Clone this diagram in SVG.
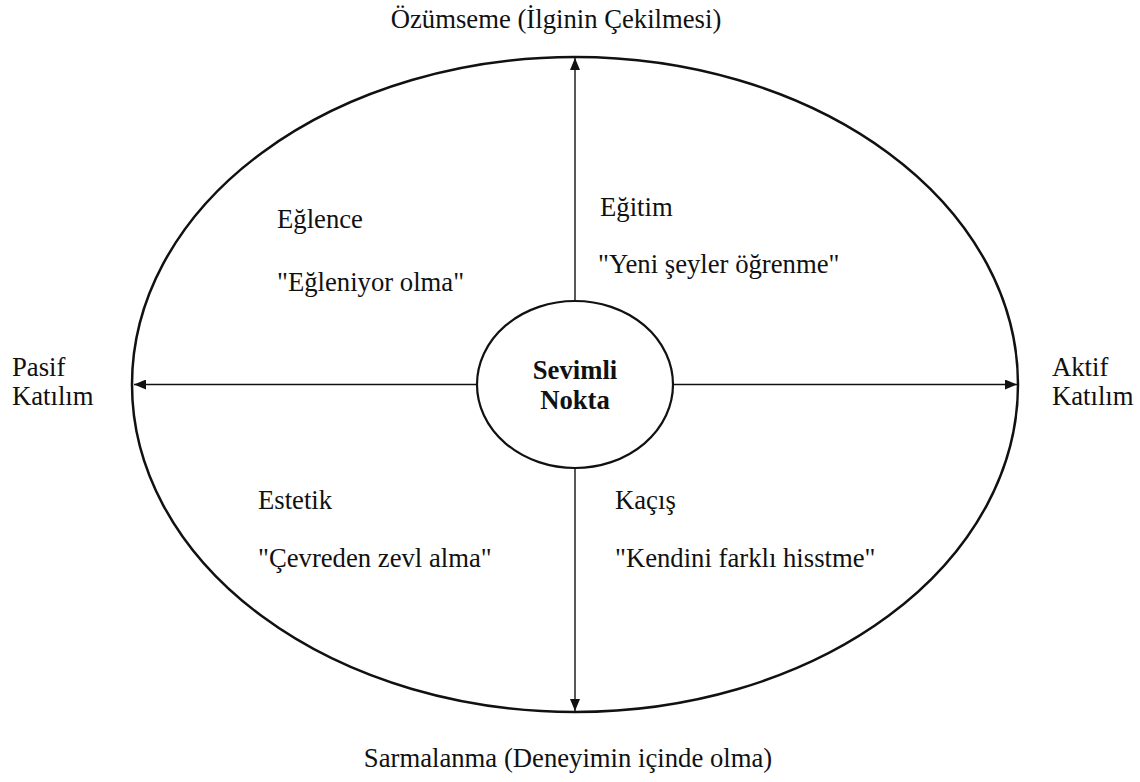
<svg xmlns="http://www.w3.org/2000/svg" width="1140" height="782" viewBox="0 0 1140 782">
  <style>
    text { font-family: "Liberation Serif", "Times New Roman", serif; font-size: 26.7px; fill: #111; }
    .bold { font-weight: bold; }
    .outline { fill: none; stroke: #111; stroke-width: 2.5; }
    .axis { stroke: #111; stroke-width: 1.4; fill: none; }
  </style>
  <defs>
    <marker id="arrow" viewBox="0 0 12 10" refX="12" refY="5" markerWidth="12" markerHeight="10" markerUnits="userSpaceOnUse" orient="auto">
      <path d="M0,0 L12,5 L0,10 Z" fill="#111"/>
    </marker>
  </defs>

  <rect width="1140" height="782" fill="#fff"/>

  <!-- outer experience field -->
  <g id="field">
    <ellipse class="outline" cx="575" cy="384.5" rx="443" ry="327.5"/>
  </g>

  <!-- axes from the centre to the rim -->
  <g id="connectors">
    <line class="axis" x1="575" y1="301" x2="575" y2="58" marker-end="url(#arrow)"/>
    <line class="axis" x1="575" y1="468" x2="575" y2="711" marker-end="url(#arrow)"/>
    <line class="axis" x1="477" y1="384.5" x2="134" y2="384.5" marker-end="url(#arrow)"/>
    <line class="axis" x1="673" y1="384.5" x2="1017" y2="384.5" marker-end="url(#arrow)"/>
  </g>

  <!-- centre: sweet spot -->
  <g id="center">
    <ellipse cx="575" cy="384.5" rx="98" ry="83.5" fill="#fff" stroke="#111" stroke-width="2.2"/>
    <text class="bold" x="575" y="379" text-anchor="middle">Sevimli</text>
    <text class="bold" x="575" y="409" text-anchor="middle">Nokta</text>
  </g>

  <!-- axis labels -->
  <g id="label-top">
    <text x="556" y="28" text-anchor="middle">Özümseme (İlginin Çekilmesi)</text>
  </g>
  <g id="label-bottom">
    <text x="568" y="767" text-anchor="middle">Sarmalanma (Deneyimin içinde olma)</text>
  </g>
  <g id="label-left">
    <text x="12" y="376">Pasif</text>
    <text x="12" y="405">Katılım</text>
  </g>
  <g id="label-right">
    <text x="1052" y="376">Aktif</text>
    <text x="1052" y="405">Katılım</text>
  </g>

  <!-- quadrants -->
  <g id="entertainment">
    <text x="277" y="228">Eğlence</text>
    <text x="277" y="291">"Eğleniyor olma"</text>
  </g>
  <g id="education">
    <text x="600" y="216">Eğitim</text>
    <text x="598" y="273">"Yeni şeyler öğrenme"</text>
  </g>
  <g id="esthetic">
    <text x="258" y="509">Estetik</text>
    <text x="258" y="567">"Çevreden zevl alma"</text>
  </g>
  <g id="escapism">
    <text x="615" y="509">Kaçış</text>
    <text x="615" y="567">"Kendini farklı hisstme"</text>
  </g>
</svg>
